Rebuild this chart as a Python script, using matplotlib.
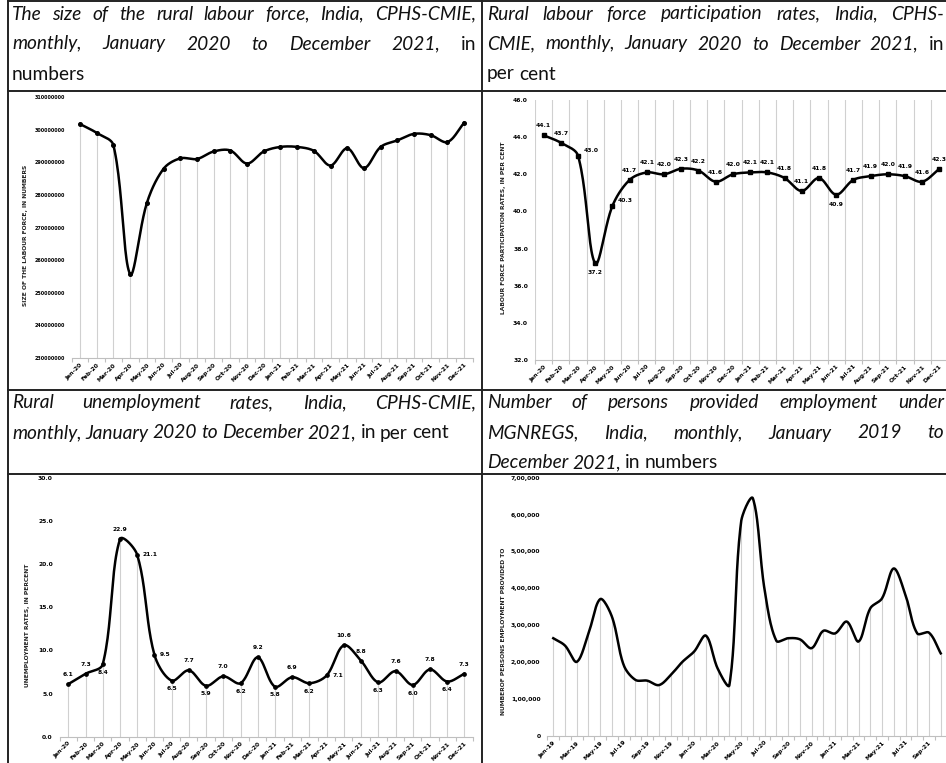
import numpy as np
import matplotlib
matplotlib.use("Agg")
import matplotlib.pyplot as plt
from matplotlib.lines import Line2D

W, H = 946, 763

# ---- data ----
months_20_21 = [m + "-" + y for y in ["20", "21"] for m in
                ["Jan", "Feb", "Mar", "Apr", "May", "Jun", "Jul", "Aug", "Sep", "Oct", "Nov", "Dec"]]
months_19_21 = [m + "-" + y for y in ["19", "20", "21"] for m in
                ["Jan", "Feb", "Mar", "Apr", "May", "Jun", "Jul", "Aug", "Sep", "Oct", "Nov", "Dec"]][:34]

labour_force = [301700000, 299000000, 295200000, 255700000, 277500000, 288000000,
                291200000, 291000000, 293300000, 293600000, 289600000, 293300000,
                294700000, 294700000, 293500000, 289000000, 294300000, 288200000,
                294700000, 296700000, 298700000, 298300000, 296200000, 302100000]

lfpr = [44.1, 43.7, 43.0, 37.2, 40.3, 41.7, 42.1, 42.0, 42.3, 42.2, 41.6, 42.0,
        42.1, 42.1, 41.8, 41.1, 41.8, 40.9, 41.7, 41.9, 42.0, 41.9, 41.6, 42.3]

unemployment = [6.1, 7.3, 8.4, 22.9, 21.1, 9.5, 6.5, 7.7, 5.9, 7.0, 6.2, 9.2,
                5.8, 6.9, 6.2, 7.1, 10.6, 8.8, 6.3, 7.6, 6.0, 7.8, 6.4, 7.3]

mgnregs = [265000, 245000, 201000, 278000, 371000, 323000, 192000, 152000, 150000,
           138000, 165000, 201000, 229000, 272000, 183000, 138000, 581000, 644000,
           396000, 258000, 265000, 262000, 238000, 285000, 278000, 310000, 256000,
           346000, 373000, 454000, 382000, 278000, 280000, 224000]

# where each data label sits: a = above, b = below, r = right
lfpr_pos = ["a", "a", "r", "b", "r", "a", "a", "a", "a", "a", "a", "a",
            "a", "a", "a", "a", "a", "b", "a", "a", "a", "a", "a", "a"]
unemp_pos = ["a", "a", "b", "a", "r", "r", "b", "a", "b", "a", "b", "a",
             "b", "a", "b", "r", "a", "a", "b", "a", "b", "a", "b", "a"]

titles = [
    ["The size of the rural labour force, India, CPHS-CMIE,",
     "monthly, January 2020 to December 2021, |in",
     "|numbers"],
    ["Rural labour force participation rates, India, CPHS-",
     "CMIE, monthly, January 2020 to December 2021, |in",
     "|per cent"],
    ["Rural unemployment rates, India, CPHS-CMIE,",
     "monthly, January 2020 to December 2021, |in per cent"],
    ["Number of persons provided employment under",
     "MGNREGS, India, monthly, January 2019 to",
     "December 2021, |in numbers"],
]

TFONT = "Lato"
SMALL = 4.3


def smooth(y, xs_px, ys_px, n=24):
    # bezier curve through the points with chord-scaled tangents (excel-like smoothing)
    y = np.asarray(y, float)
    P = np.column_stack([np.arange(len(y)) * xs_px, y * ys_px])
    m = len(P)
    c_out = np.zeros_like(P)
    c_in = np.zeros_like(P)
    c_out[0] = P[0] + (P[1] - P[0]) / 3
    c_in[-1] = P[-1] - (P[-1] - P[-2]) / 3
    for i in range(1, m - 1):
        T = P[i + 1] - P[i - 1]
        d0 = np.hypot(*(P[i] - P[i - 1]))
        d1 = np.hypot(*(P[i + 1] - P[i]))
        c_out[i] = P[i] + T * d1 / (d0 + d1) / 3
        c_in[i] = P[i] - T * d0 / (d0 + d1) / 3
    t = np.linspace(0, 1, n, endpoint=False)[:, None]
    pts = []
    for i in range(m - 1):
        a, b, c, d = P[i], c_out[i], c_in[i + 1], P[i + 1]
        pts.append((1 - t) ** 3 * a + 3 * (1 - t) ** 2 * t * b + 3 * (1 - t) * t ** 2 * c + t ** 3 * d)
    pts.append(P[-1:])
    pts = np.vstack(pts)
    return pts[:, 0] / xs_px, pts[:, 1] / ys_px


fig = plt.figure(figsize=(W / 100, H / 100), dpi=100)
renderer = fig.canvas.get_renderer()


def px_axes(left, right, top, bottom):
    return fig.add_axes([left / W, 1 - bottom / H, (right - left) / W, (bottom - top) / H])


def text_width(s, size, style):
    t = fig.text(0, 0, s, fontsize=size, family=TFONT, style=style)
    w = t.get_window_extent(renderer).width
    t.remove()
    return w


# title size: the last line of the third title nearly fills its cell in the reference
ref_w = text_width("monthly, January 2020 to December 2021, ", 12, "italic") + text_width("in per cent", 12, "normal")
TSIZE = 12 * 440 / ref_w


def paragraph(lines, x0, x1, ys, size=TSIZE):
    upright = False
    for i, (line, y) in enumerate(zip(lines, ys)):
        items = []
        for w in line.split():
            if w.startswith("|"):
                upright = True
                w = w[1:]
            items.append(fig.text(0, 1 - y / H, w, fontsize=size, family=TFONT,
                                  style="normal" if upright else "italic",
                                  va="center", ha="left", color="#111111"))
        widths = [t.get_window_extent(renderer).width for t in items]
        if i < len(lines) - 1 and len(items) > 1:
            gap = (x1 - x0 - sum(widths)) / (len(items) - 1)
        else:
            gap = size * 0.3
        x = x0
        for t, wd in zip(items, widths):
            t.set_x(x / W)
            x += wd + gap


def style_axis(ax, n, labels, step=1, ysize=SMALL):
    ax.set_xlim(-0.5, n - 0.5)
    for s in ["left", "top", "right"]:
        ax.spines[s].set_visible(False)
    ax.spines["bottom"].set_color("#bfbfbf")
    ax.spines["bottom"].set_linewidth(0.8)
    ax.set_xticks(range(0, n, step))
    ax.set_xticklabels(labels[::step], rotation=45, ha="right", va="top",
                       rotation_mode="anchor", fontsize=SMALL, fontweight="bold")
    ax.set_xticks(np.arange(-0.5, n), minor=True)
    ax.tick_params(axis="x", which="major", length=0, pad=3)
    ax.tick_params(axis="x", which="minor", length=3, color="#bfbfbf", width=0.8)
    ax.tick_params(axis="y", length=0, labelsize=ysize, pad=5)
    for t in ax.get_yticklabels():
        t.set_fontweight("bold")
    ax.patch.set_alpha(0)


def ylabel(text, x, y):
    fig.text(x / W, 1 - y / H, text, rotation=90, ha="center", va="center",
             fontsize=SMALL, fontweight="bold", color="#222222")


# ---- panel 1: size of labour force ----
ax1 = px_axes(71.7, 472.5, 97, 358)
xi = np.arange(len(labour_force))
ax1.set_ylim(230000000, 310000000)
ax1.set_yticks(np.arange(230000000, 310000001, 10000000))
ax1.yaxis.set_major_formatter(matplotlib.ticker.FuncFormatter(lambda v, p: "%d" % v))
ax1.vlines(xi, 230000000, labour_force, color="#d0d0d0", lw=0.8, zorder=1)
sx, sy = smooth(labour_force, 16.7, 261 / 80000000)
ax1.plot(sx, sy, color="black", lw=1.8, zorder=3)
ax1.plot(xi, labour_force, "o", color="black", ms=2.6, zorder=4)
style_axis(ax1, len(labour_force), months_20_21, ysize=3.5)
ylabel("SIZE OF THE LABOUR FORCE, IN NUMBERS", 26, 235)

# ---- panel 2: participation rate ----
ax2 = px_axes(535, 948, 100, 360)
ax2.set_ylim(32, 46)
ax2.set_yticks(np.arange(32, 46.1, 2))
ax2.yaxis.set_major_formatter(matplotlib.ticker.FormatStrFormatter("%.1f"))
style_axis(ax2, len(lfpr), months_20_21)
ax2.grid(True, which="minor", axis="x", color="#d0d0d0", lw=0.8)
ax2.set_axisbelow(True)
sx, sy = smooth(lfpr, 17.2, 260 / 14)
ax2.plot(sx, sy, color="black", lw=1.8, zorder=3, clip_on=False)
ax2.plot(range(len(lfpr)), lfpr, "s", color="black", ms=2.4, zorder=4, clip_on=False)
offs = {"a": (0, 5, "center", "bottom"), "b": (0, -5, "center", "top"),
        "r": (4, 2, "left", "bottom")}
for i, (v, p) in enumerate(zip(lfpr, lfpr_pos)):
    dx, dy, ha, va = offs[p]
    ax2.annotate("%.1f" % v, (i, v), xytext=(dx, dy), textcoords="offset points",
                 ha=ha, va=va, fontsize=SMALL, fontweight="bold", annotation_clip=False)
ylabel("LABOUR FORCE PARTICIPATION RATES, IN PER CENT", 503, 228)

# ---- panel 3: unemployment ----
ax3 = px_axes(59.7, 473, 478, 736.7)
ax3.set_ylim(0, 30)
ax3.set_yticks(np.arange(0, 30.1, 5))
ax3.yaxis.set_major_formatter(matplotlib.ticker.FormatStrFormatter("%.1f"))
xi = np.arange(len(unemployment))
ax3.vlines(xi, 0, unemployment, color="#d0d0d0", lw=0.8, zorder=1)
sx, sy = smooth(unemployment, 17.2, 258.7 / 30)
ax3.plot(sx, sy, color="black", lw=1.8, zorder=3)
ax3.plot(xi, unemployment, "o", color="black", ms=2.4, zorder=4)
style_axis(ax3, len(unemployment), months_20_21)
offs3 = {"a": (0, 5, "center", "bottom"), "b": (0, -4, "center", "top"),
         "r": (4, 0, "left", "center")}
for i, (v, p) in enumerate(zip(unemployment, unemp_pos)):
    dx, dy, ha, va = offs3[p]
    ax3.annotate("%.1f" % v, (i, v), xytext=(dx, dy), textcoords="offset points",
                 ha=ha, va=va, fontsize=SMALL, fontweight="bold")
ylabel("UNEMPLOYMENT RATES, IN PERCENT", 28, 625)


# ---- panel 4: MGNREGS ----
def indian(v, p):
    v = int(round(v))
    if v < 1000:
        return str(v)
    s = str(v)
    head, tail = s[:-3], s[-3:]
    parts = []
    while len(head) > 2:
        parts.insert(0, head[-2:])
        head = head[:-2]
    if head:
        parts.insert(0, head)
    return ",".join(parts) + "," + tail


ax4 = px_axes(547.4, 946.6, 477.7, 736)
ax4.set_ylim(0, 700000)
ax4.set_yticks(np.arange(0, 700001, 100000))
ax4.yaxis.set_major_formatter(matplotlib.ticker.FuncFormatter(indian))
xi = np.arange(len(mgnregs))
ax4.vlines(xi, 0, mgnregs, color="#d0d0d0", lw=0.8, zorder=1)
sx, sy = smooth(mgnregs, 11.74, 258.3 / 700000)
ax4.plot(sx, sy, color="black", lw=1.8, zorder=3)
style_axis(ax4, len(mgnregs), months_19_21, step=2)
ylabel("NUMBEROF PERSONS EMPLOYMENT PROVIDED TO", 503, 631)

# ---- table frame and titles ----
for y in [1, 91, 390, 474]:
    fig.add_artist(Line2D([8 / W, 1], [1 - y / H] * 2, color="#222222", lw=1.4,
                          transform=fig.transFigure))
for x in [8, 482]:
    fig.add_artist(Line2D([x / W] * 2, [0, 1 - 1 / H], color="#222222", lw=1.4,
                          transform=fig.transFigure))

paragraph(titles[0], 12, 476, [14, 44, 74])
paragraph(titles[1], 487, 944, [14, 44, 74])
paragraph(titles[2], 12, 476, [403, 433])
paragraph(titles[3], 487, 944, [403, 433, 463])

fig.savefig("out.png", dpi=100)
